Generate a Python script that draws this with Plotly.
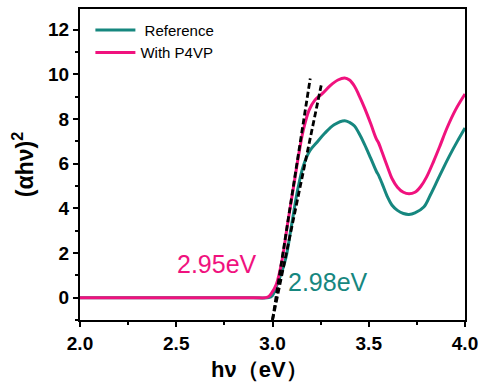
import plotly.graph_objects as go

# Tauc plot data: photon energy (eV) vs (alpha*h*nu)^2
ref_x = [2.0, 2.5, 2.9, 2.98, 3.0, 3.02, 3.05, 3.07, 3.10, 3.13, 3.16, 3.194, 3.23,
         3.27, 3.32, 3.375, 3.40, 3.426, 3.45, 3.478, 3.51, 3.54, 3.55, 3.57,
         3.598, 3.62, 3.649, 3.68, 3.709, 3.74, 3.786, 3.82, 3.856, 3.89, 3.924,
         3.96, 4.0]
ref_y = [0.0, 0.0, 0.0, 0.0, 0.1, 0.5, 1.2, 1.8, 3.3, 4.8, 5.9, 6.58, 6.95,
         7.35, 7.75, 7.93, 7.85, 7.69, 7.35, 6.87, 6.25, 5.65, 5.5, 5.1,
         4.5, 4.15, 3.91, 3.77, 3.73, 3.8, 4.06, 4.6, 5.24, 5.85, 6.43,
         7.0, 7.6]

p4vp_x = [2.0, 2.5, 2.9, 2.975, 2.995, 3.02, 3.05, 3.08, 3.11, 3.14, 3.16, 3.19, 3.22,
          3.26, 3.30, 3.34, 3.375, 3.40, 3.426, 3.45, 3.478, 3.51, 3.54, 3.55, 3.57,
          3.598, 3.62, 3.649, 3.68, 3.709, 3.74, 3.77, 3.80, 3.838, 3.87, 3.907,
          3.95, 4.0]
p4vp_y = [0.0, 0.0, 0.0, 0.02, 0.2, 0.6, 1.7, 3.4, 5.0, 6.6, 7.5, 8.4, 8.85,
          9.15, 9.5, 9.75, 9.84, 9.75, 9.47, 9.05, 8.5, 7.8, 7.1, 6.95, 6.5,
          5.84, 5.35, 4.95, 4.72, 4.65, 4.72, 4.98, 5.4, 6.13, 6.8, 7.61,
          8.4, 9.12]

# Linear extrapolations of the absorption edges
tangent1_x = [3.0, 3.196]
tangent1_y = [-1.0, 9.82]
tangent2_x = [3.0, 3.253]
tangent2_y = [-1.0, 9.51]

x_ticks = [2.0, 2.5, 3.0, 3.5, 4.0]
y_ticks = [0, 2, 4, 6, 8, 10, 12]

TEAL = "#16877F"
MAGENTA = "#F0127E"
FONT = "Arial, Liberation Sans"

fig = go.Figure()
fig.add_trace(go.Scatter(x=ref_x, y=ref_y, mode="lines", name=" Reference",
                         line=dict(color=TEAL, width=3, shape="spline", smoothing=1.0)))
fig.add_trace(go.Scatter(x=p4vp_x, y=p4vp_y, mode="lines", name="With P4VP",
                         line=dict(color=MAGENTA, width=3, shape="spline", smoothing=1.0)))
for tx, ty in [(tangent1_x, tangent1_y), (tangent2_x, tangent2_y)]:
    fig.add_trace(go.Scatter(x=tx, y=ty, mode="lines", showlegend=False,
                             line=dict(color="black", width=2.8, dash="6px,3px")))

fig.add_annotation(x=2.711, y=1.51, text="2.95eV", showarrow=False,
                   font=dict(family=FONT, size=25, color=MAGENTA))
fig.add_annotation(x=3.289, y=0.71, text="2.98eV", showarrow=False,
                   font=dict(family=FONT, size=25, color=TEAL))
# x-axis title, placed slightly left of centre
fig.add_annotation(x=0.466, y=-0.16, xref="paper", yref="paper", text="hν（eV）",
                   showarrow=False, xanchor="center", yanchor="middle",
                   font=dict(family=FONT, size=22, color="black", weight="bold"))

axis_common = dict(
    showline=True, linecolor="black", linewidth=2, mirror=True,
    ticks="outside", ticklen=5, tickwidth=2, tickcolor="black",
    showgrid=False, zeroline=False,
    tickfont=dict(family=FONT, size=19, color="black", weight="bold"),
    minor=dict(ticks="outside", ticklen=3, tickwidth=1.5, tickcolor="black"),
)

fig.update_xaxes(range=[2.0, 4.0], tickvals=x_ticks, tickformat=".1f",
                 minor_dtick=0.25, **axis_common)
fig.update_yaxes(range=[-1, 12.93], tickvals=y_ticks,
                 minor_dtick=1,
                 title=dict(text="(αhν)<sup>2</sup>", standoff=8,
                            font=dict(family=FONT, size=23,
                                      color="black", weight="bold")),
                 **axis_common)

fig.update_layout(
    width=485, height=387,
    margin=dict(l=80, r=17, t=7, b=67),
    plot_bgcolor="white", paper_bgcolor="white",
    legend=dict(x=0.027, y=0.985, xanchor="left", yanchor="top",
                bgcolor="rgba(0,0,0,0)", tracegroupgap=0, itemwidth=40,
                font=dict(family=FONT, size=15, color="black")),
)

fig.write_html("out.html")
